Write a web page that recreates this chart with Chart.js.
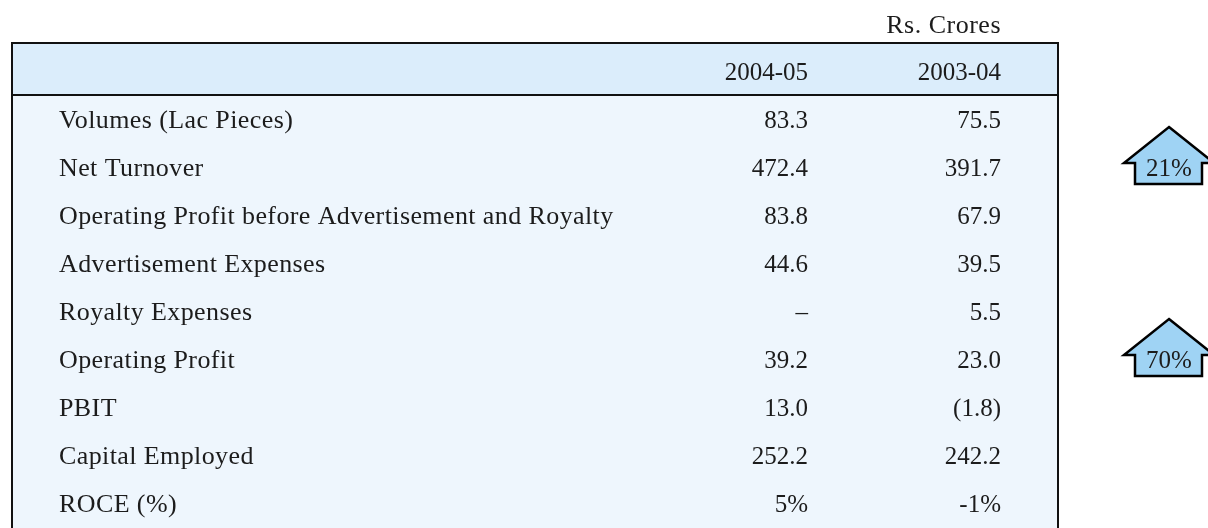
<!DOCTYPE html>
<html>
<head>
<meta charset="utf-8">
<script src="https://cdn.jsdelivr.net/npm/chart.js@4.4.1/dist/chart.umd.min.js"></script>
<style>
  html, body { margin: 0; padding: 0; background: #ffffff; }
  #wrap { width: 1208px; height: 528px; }
</style>
</head>
<body>
<div id="wrap"><canvas id="myChart" width="1208" height="528"></canvas></div>
<script>
(function () {
    "use strict";

    // table data
    var rowLabels = [
        'Volumes (Lac Pieces)',
        'Net Turnover',
        'Operating Profit before Advertisement and Royalty',
        'Advertisement Expenses',
        'Royalty Expenses',
        'Operating Profit',
        'PBIT',
        'Capital Employed',
        'ROCE (%)'
    ];
    var columnLabels = ['2004-05', '2003-04'];
    var values0405 = ['83.3', '472.4', '83.8', '44.6', '\u2013', '39.2', '13.0', '252.2', '5%'];
    var values0304 = ['75.5', '391.7', '67.9', '39.5', '5.5', '23.0', '(1.8)', '242.2', '-1%'];
    var unitLabel = 'Rs. Crores';

    // growth arrows on the right
    var growthRows = ['Net Turnover', 'Operating Profit'];
    var growthLabels = ['21%', '70%'];

    var FONT = '25px "Liberation Serif", "DejaVu Serif", serif';
    var LABEL_FONT = '26px "Liberation Serif", "DejaVu Serif", serif';
    var TEXT = '#1c1c1c';

    var tablePlugin = {
        id: 'tablePlugin',
        beforeDraw: function (chart) {
            var ctx = chart.ctx;
            var area = chart.chartArea;
            var left = 12, right = 1058, top = 43, headBottom = area.top;

            ctx.save();
            // body + header backgrounds
            ctx.fillStyle = '#eef6fd';
            ctx.fillRect(left, headBottom, right - left, chart.height - headBottom);
            ctx.fillStyle = '#dbedfb';
            ctx.fillRect(left, top, right - left, headBottom - top);

            // borders
            ctx.strokeStyle = '#111111';
            ctx.lineWidth = 2;
            ctx.beginPath();
            ctx.moveTo(left, chart.height + 2);
            ctx.lineTo(left, top);
            ctx.lineTo(right, top);
            ctx.lineTo(right, chart.height + 2);
            ctx.moveTo(left, headBottom);
            ctx.lineTo(right, headBottom);
            ctx.stroke();
            ctx.restore();
        },
        afterDraw: function (chart) {
            var ctx = chart.ctx;
            var y = chart.scales.y;
            var col1 = 808, col2 = 1001, labelX = 59;

            ctx.save();
            ctx.fillStyle = TEXT;
            ctx.textBaseline = 'alphabetic';

            // unit + header
            ctx.font = LABEL_FONT;
            ctx.letterSpacing = '0.5px';
            ctx.textAlign = 'right';
            ctx.fillText(unitLabel, col2, 33);
            ctx.font = FONT;
            ctx.letterSpacing = '0px';
            ctx.fillText(columnLabels[0], col1, 80);
            ctx.fillText(columnLabels[1], col2, 80);

            // rows
            rowLabels.forEach(function (label, i) {
                var py = y.getPixelForValue(i) + 9;
                ctx.font = LABEL_FONT;
                ctx.letterSpacing = '0.4px';
                ctx.textAlign = 'left';
                ctx.fillText(label, labelX, py);
                ctx.font = FONT;
                ctx.letterSpacing = '0px';
                ctx.textAlign = 'right';
                ctx.fillText(values0405[i], col1, py);
                ctx.fillText(values0304[i], col2, py);
            });

            // arrows
            growthRows.forEach(function (row, i) {
                var cy = y.getPixelForValue(rowLabels.indexOf(row));
                var cx = 1169;
                var topY = cy - 40, baseY = cy - 4, botY = cy + 17;
                ctx.beginPath();
                ctx.moveTo(cx, topY);
                ctx.lineTo(cx + 45, baseY);
                ctx.lineTo(cx + 33, baseY);
                ctx.lineTo(cx + 33, botY);
                ctx.lineTo(cx - 34, botY);
                ctx.lineTo(cx - 34, baseY);
                ctx.lineTo(cx - 45, baseY);
                ctx.closePath();
                ctx.fillStyle = '#9fd3f4';
                ctx.fill();
                ctx.lineWidth = 2.5;
                ctx.lineJoin = 'miter';
                ctx.strokeStyle = '#000000';
                ctx.stroke();

                ctx.fillStyle = TEXT;
                ctx.textAlign = 'center';
                ctx.fillText(growthLabels[i], cx, cy + 9);
            });
            ctx.restore();
        }
    };

    var ctx = document.getElementById('myChart').getContext('2d');
    var chart = new Chart(ctx, {
        type: 'bar',
        data: {
            labels: rowLabels,
            datasets: []
        },
        options: {
            responsive: false,
            animation: false,
            devicePixelRatio: 1,
            indexAxis: 'y',
            layout: {
                padding: { top: 95, bottom: 1, left: 0, right: 0 }
            },
            plugins: {
                legend: { display: false },
                tooltip: { enabled: false }
            },
            scales: {
                y: { type: 'category', display: false, offset: true },
                x: { type: 'linear', display: false, min: 0, max: 1 }
            }
        },
        plugins: [tablePlugin]
    });
})();
</script>
</body>
</html>
